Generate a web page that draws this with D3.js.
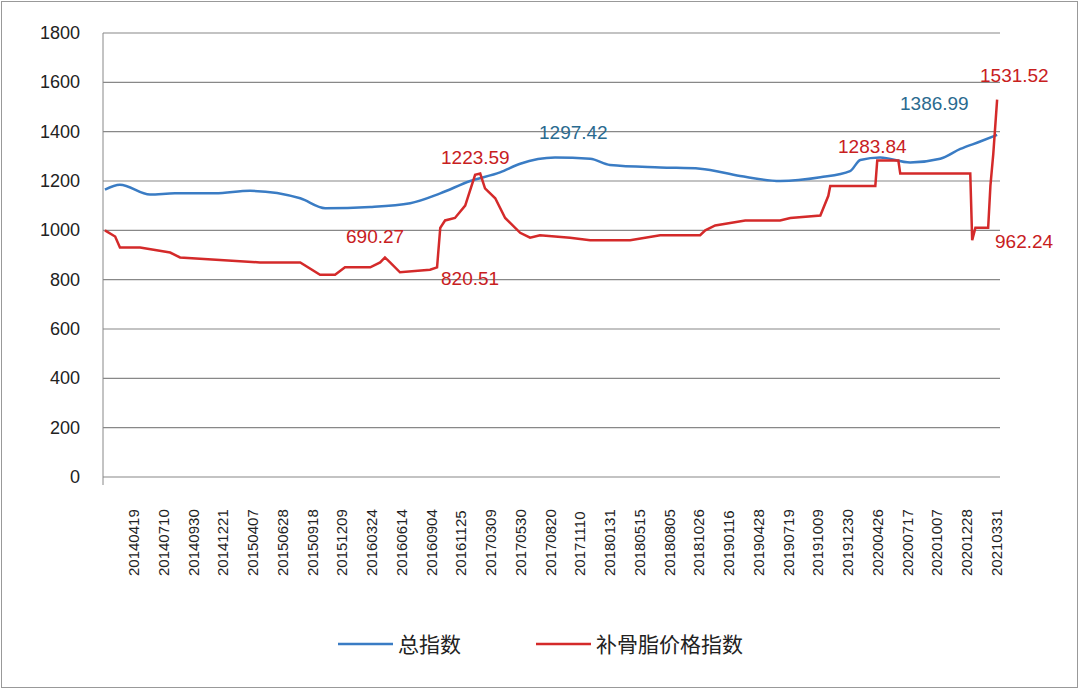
<!DOCTYPE html><html><head><meta charset="utf-8"><script src="https://cdn.jsdelivr.net/npm/d3@7"></script>
<style>body{margin:0;background:#fff;font-family:"Liberation Sans",Arial,sans-serif}</style></head><body><svg id="c" width="1080" height="690"></svg><script>
const tickLabels=["20140419","20140710","20140930","20141221","20150407","20150628","20150918","20151209","20160324","20160614","20160904","20161125","20170309","20170530","20170820","20171110","20180131","20180515","20180805","20181026","20190116","20190428","20190719","20191009","20191230","20200426","20200717","20201007","20201228","20210331"];
const yTicks=[0,200,400,600,800,1000,1200,1400,1600,1800];
// positions in category units (0 = first tick label)
const totalX=[-0.88,-0.41,0.53,1.31,2.57,3.66,5.23,6.01,7.42,8.67,9.61,10.55,11.48,12.11,13.2,14.3,14.92,16.49,17.74,18.99,20.24,21.5,22.43,22.75,23.37,24.31,25.25,25.88,26.5,27.03];
const totalV=[1165,1185,1145,1150,1150,1160,1130,1090,1095,1110,1150,1200,1235,1270,1295,1290,1265,1255,1250,1220,1200,1215,1240,1285,1295,1275,1290,1330,1360,1387];
const boneX=[-0.88,-0.56,-0.41,0.22,1.16,1.47,2.72,3.97,5.23,5.85,6.32,6.63,7.42,7.73,7.88,8.04,8.35,9.29,9.51,9.61,9.76,10.07,10.39,10.7,10.86,11.01,11.33,11.64,12.11,12.42,12.73,13.67,14.3,15.55,16.49,17.74,17.9,18.21,19.15,20.24,20.56,21.5,21.75,21.81,23.22,23.28,23.94,24.0,26.19,26.25,26.35,26.75,26.82,26.91,27.03];
const boneV=[1000,975,930,930,910,890,880,870,870,820,820,850,850,870,890,870,830,840,850,1010,1040,1050,1100,1225,1230,1170,1130,1050,990,970,980,970,960,960,980,980,1000,1020,1040,1040,1050,1060,1140,1180,1180,1283,1283,1230,1230,960,1010,1010,1180,1310,1530];
const seriesNames=["总指数","补骨脂价格指数"];
const svg=d3.select("#c");
svg.append("rect").attr("x",1.5).attr("y",1.5).attr("width",1076).attr("height",686).attr("fill","none").attr("stroke","#999");
const x=d3.scaleLinear().domain([-0.94,27.12]).range([103,1000]);
const y=d3.scaleLinear().domain([0,1800]).range([477,33]);
yTicks.forEach(t=>{svg.append("line").attr("x1",103).attr("x2",1000).attr("y1",y(t)).attr("y2",y(t)).attr("stroke","#888").attr("stroke-width",1.2);
svg.append("text").attr("x",80).attr("y",y(t)+6).attr("text-anchor","end").attr("font-size",18).attr("fill","#222").text(t);});
svg.append("line").attr("x1",103).attr("x2",103).attr("y1",33).attr("y2",485).attr("stroke","#888");
tickLabels.forEach((l,i)=>{if(i>=28)return;});
const tl=tickLabels.filter((d,i)=>true);
// 28 labels shown in reference
const shown=["20140419","20140710","20140930","20141221","20150407","20150628","20150918","20151209","20160324","20160614","20160904","20161125","20170309","20170530","20170820","20171110","20180131","20180515","20180805","20181026","20190116","20190428","20190719","20191009","20191230","20200426","20200717","20201007","20201228","20210331"];
shown.forEach((l,i)=>{const px=133+(996-133)*i/(shown.length-1);
svg.append("text").attr("transform",`translate(${px+6},${576}) rotate(-90)`).attr("font-size",15).attr("fill","#222").text(l);});
const line=d3.line().x(d=>x(d[0])).y(d=>y(d[1]));
svg.append("path").datum(totalX.map((d,i)=>[d,totalV[i]])).attr("d",line.curve(d3.curveMonotoneX)).attr("fill","none").attr("stroke","#3a7cc4").attr("stroke-width",2.5);
svg.append("path").datum(boneX.map((d,i)=>[d,boneV[i]])).attr("d",d3.line().x(d=>x(d[0])).y(d=>y(d[1]))).attr("fill","none").attr("stroke","#d42a2a").attr("stroke-width",2.5);
const ann=[["1223.59",441,164,"#c8201e"],["690.27",346,243,"#c8201e"],["820.51",441,285,"#c8201e"],["1297.42",539,139,"#2a6a8f"],["1283.84",838,153,"#c8201e"],["1386.99",900,110,"#2a6a8f"],["1531.52",980,82,"#c8201e"],["962.24",995,248,"#c8201e"]];
ann.forEach(a=>svg.append("text").attr("x",a[1]).attr("y",a[2]).attr("font-size",19).attr("fill",a[3]).text(a[0]));
const lg=[[398,"#3a7cc4",seriesNames[0]],[596,"#d42a2a",seriesNames[1]]];
lg.forEach(g=>{svg.append("line").attr("x1",g[0]-60).attr("x2",g[0]-5).attr("y1",644).attr("y2",644).attr("stroke",g[1]).attr("stroke-width",2.5);
svg.append("text").attr("x",g[0]).attr("y",652).attr("font-size",21).attr("font-family","Noto Sans CJK SC").attr("fill","#222").text(g[2]);});
</script></body></html>
